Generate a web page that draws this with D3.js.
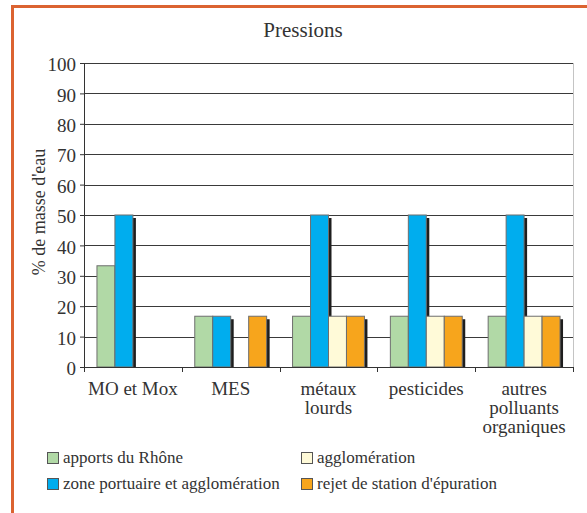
<!DOCTYPE html>
<html>
<head>
<meta charset="utf-8">
<script src="https://cdnjs.cloudflare.com/ajax/libs/d3/7.8.5/d3.min.js"></script>
<style>
  body { margin: 0; background: #fff; }
</style>
</head>
<body>
<div id="chart"></div>
<script>
var svgWidth = 587;
var svgHeight = 513;
var serif = "'Liberation Serif', 'DejaVu Serif', serif";

// data
var categories = [["MO et Mox"], ["MES"], ["métaux", "lourds"], ["pesticides"], ["autres", "polluants", "organiques"]];
var seriesNames = ["apports du Rhône", "zone portuaire et agglomération", "agglomération", "rejet de station d'épuration"];
var seriesColors = ["#b1d9a6", "#00adee", "#fffad8", "#f7a51c"];
var rhone = [33.3, 16.7, 16.7, 16.7, 16.7];
var portuaire = [50, 16.7, 50, 50, 50];
var agglo = [0, 0, 16.7, 16.7, 16.7];
var station = [0, 16.7, 16.7, 16.7, 16.7];
var yTicks = [0, 10, 20, 30, 40, 50, 60, 70, 80, 90, 100];

var seriesValues = [rhone, portuaire, agglo, station];

var margin = { top: 63, right: 14, bottom: 146, left: 84 };
var width = svgWidth - margin.left - margin.right;
var height = svgHeight - margin.top - margin.bottom;

var svg = d3.select("#chart").append("svg")
  .attr("width", svgWidth)
  .attr("height", svgHeight);

// orange frame
svg.append("line").attr("x1", 12).attr("x2", svgWidth).attr("y1", 6.5).attr("y2", 6.5)
  .attr("stroke", "#db6331").attr("stroke-width", 3);
svg.append("line").attr("x1", 12.5).attr("x2", 12.5).attr("y1", 5).attr("y2", svgHeight)
  .attr("stroke", "#db6331").attr("stroke-width", 3);

svg.append("text")
  .attr("x", 303).attr("y", 37)
  .attr("text-anchor", "middle")
  .style("font-family", serif).style("font-size", "21px").style("fill", "#333")
  .text("Pressions");

var chartGroup = svg.append("g")
  .attr("transform", `translate(${margin.left}, ${margin.top})`);

var yScale = d3.scaleLinear().domain([0, 100]).range([height, 0]);
var x0 = d3.scaleBand().domain(d3.range(categories.length)).range([0, width]).paddingInner(0.265).paddingOuter(0.1325);
var x1 = d3.scaleBand().domain(d3.range(seriesNames.length)).range([0, x0.bandwidth()]);

// plot area right edge
chartGroup.append("line")
  .attr("x1", width + 0.5).attr("x2", width + 0.5).attr("y1", 0).attr("y2", height)
  .attr("stroke", "#c4c4c4");

// gridlines
chartGroup.selectAll(".grid").data(yTicks.slice(1)).enter().append("line")
  .attr("class", "grid")
  .attr("x1", 0).attr("x2", width)
  .attr("y1", d => Math.round(yScale(d)) + 0.5).attr("y2", d => Math.round(yScale(d)) + 0.5)
  .attr("stroke", "#3a3a3a");

// bars with drop shadow
categories.forEach(function(cat, i) {
  seriesValues.forEach(function(vals, s) {
    var v = vals[i];
    if (!v) return;
    var bx = x0(i) + x1(s);
    var by = yScale(v);
    var bw = x1.bandwidth();
    chartGroup.append("rect")
      .attr("x", bx + 3).attr("y", by + 3)
      .attr("width", bw).attr("height", height - by - 3)
      .attr("fill", "#1e1e1e");
    chartGroup.append("rect")
      .attr("x", bx).attr("y", by)
      .attr("width", bw).attr("height", height - by)
      .attr("fill", seriesColors[s])
      .attr("stroke", "#6e6e6e").attr("stroke-width", 1);
  });
});

// y axis
var leftAxis = d3.axisLeft(yScale).tickValues(yTicks).tickSize(4).tickPadding(4);
var yAxisG = chartGroup.append("g").call(leftAxis);
yAxisG.select(".domain").attr("stroke", "#333");
yAxisG.selectAll("line").attr("stroke", "#333");
yAxisG.selectAll("text")
  .attr("dy", "0.4em")
  .style("font-family", serif).style("font-size", "19px").style("fill", "#333");

// x axis
var bounds = d3.range(categories.length + 1).map(i => i * width / categories.length);
chartGroup.append("line").attr("x1", 0).attr("x2", width).attr("y1", height + 0.5).attr("y2", height + 0.5)
  .attr("stroke", "#333");
chartGroup.selectAll(".xtick").data(bounds).enter().append("line")
  .attr("x1", d => Math.round(d) + 0.5).attr("x2", d => Math.round(d) + 0.5)
  .attr("y1", height).attr("y2", height + 5)
  .attr("stroke", "#333");

categories.forEach(function(lines, i) {
  var t = chartGroup.append("text")
    .attr("x", x0(i) + x0.bandwidth() / 2)
    .attr("y", height + 28)
    .attr("text-anchor", "middle")
    .style("font-family", serif).style("font-size", "19px").style("fill", "#333");
  lines.forEach(function(l, k) {
    t.append("tspan").attr("x", x0(i) + x0.bandwidth() / 2).attr("dy", k ? 19 : 0).text(l);
  });
});

// y axis title
svg.append("text")
  .attr("transform", "translate(45, 212) rotate(-90)")
  .attr("text-anchor", "middle")
  .style("font-family", serif).style("font-size", "18px").style("fill", "#333")
  .text("% de masse d'eau");

// legend
var legendPos = [[47, 452], [47, 478], [301, 452], [301, 478]];
seriesNames.forEach(function(name, s) {
  var p = legendPos[s];
  svg.append("rect")
    .attr("x", p[0] + 0.5).attr("y", p[1] + 0.5)
    .attr("width", 11).attr("height", 11)
    .attr("fill", seriesColors[s])
    .attr("stroke", "#555");
  svg.append("text")
    .attr("x", p[0] + 16).attr("y", p[1] + 11)
    .style("font-family", serif).style("font-size", "17px").style("fill", "#333")
    .text(name);
});
</script>
</body>
</html>
